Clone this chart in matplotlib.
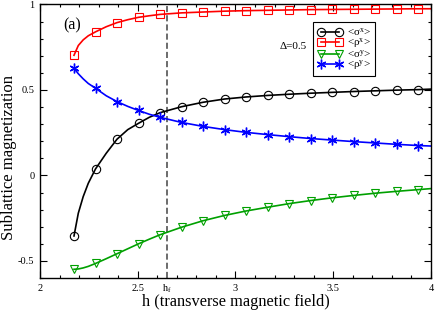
import numpy as np
import matplotlib
matplotlib.use("Agg")
import matplotlib.pyplot as plt
from matplotlib.lines import Line2D
from matplotlib.ticker import MultipleLocator, FuncFormatter
import matplotlib.transforms as mtransforms

plt.rcParams["font.family"] = ["Liberation Serif", "DejaVu Serif"]
plt.rcParams["mathtext.fontset"] = "custom"
plt.rcParams["mathtext.rm"] = "Liberation Serif"
plt.rcParams["mathtext.it"] = "Liberation Serif:italic"
plt.rcParams["axes.unicode_minus"] = False

# h values of the curves (markers sit on a subset of them)
h_line = [2.174, 2.196, 2.221, 2.247, 2.284, 2.339, 2.394, 2.449, 2.504, 2.559,
          2.614, 2.724, 2.834, 2.944, 3.054, 3.164, 3.274, 3.384, 3.494, 3.604,
          3.714, 3.824, 3.934, 4.0]
h_mark = [2.174, 2.284, 2.394, 2.504, 2.614, 2.724, 2.834, 2.944, 3.054, 3.164,
          3.274, 3.384, 3.494, 3.604, 3.714, 3.824, 3.934]

sigma_x = [-0.354, -0.221, -0.124, -0.046, 0.038, 0.130, 0.212, 0.268, 0.305, 0.340,
           0.367, 0.402, 0.428, 0.447, 0.459, 0.468, 0.475, 0.481, 0.486, 0.491,
           0.495, 0.499, 0.502, 0.505]
rho_x = [0.703, 0.760, 0.793, 0.817, 0.840, 0.870, 0.894, 0.911, 0.925, 0.934,
         0.942, 0.951, 0.956, 0.961, 0.964, 0.966, 0.968, 0.970, 0.971, 0.972,
         0.973, 0.974, 0.975, 0.975]
sigma_y = [-0.549, -0.547, -0.541, -0.532, -0.515, -0.487, -0.458, -0.429, -0.400, -0.373,
           -0.347, -0.303, -0.265, -0.234, -0.208, -0.186, -0.165, -0.147, -0.131, -0.117,
           -0.104, -0.093, -0.083, -0.077]
rho_y = [0.627, 0.595, 0.565, 0.538, 0.510, 0.466, 0.432, 0.404, 0.380, 0.358,
         0.340, 0.310, 0.287, 0.268, 0.252, 0.239, 0.227, 0.216, 0.207, 0.198,
         0.190, 0.182, 0.175, 0.172]

h_f = 2.648
delta_label = "Δ=0.5"

star = (6, 2, 0)
series = [
    (sigma_x, "black", "o", "<σ$^{\\rm x}$>"),
    (rho_x, "#ff0000", "s", "<ρ$^{\\rm x}$>"),
    (sigma_y, "#00a000", "v", "<σ$^{\\rm y}$>"),
    (rho_y, "#0000ff", star, "<ρ$^{\\rm y}$>"),
]

fig = plt.figure(figsize=(4.36, 3.10), dpi=100)
ax = fig.add_axes([0.0917, 0.1032, 0.8968, 0.8823])

h_line = np.array(h_line)
mask = np.isin(h_line, h_mark)

handles = []
for vals, col, mk, lab in series:
    vals = np.array(vals)
    ax.plot(h_line, vals, color=col, lw=1.2, zorder=2)
    if mk == star:
        kw = dict(marker=mk, ms=7, mfc=col, mec=col, mew=1.0)
    else:
        kw = dict(marker=mk, ms=6, mfc="none", mec=col, mew=0.8)
    ax.plot(h_line[mask], vals[mask], ls="none", zorder=3, **kw)
    handles.append(Line2D([], [], color=col, lw=1.2, label=lab, **kw))

ax.axvline(h_f, color="#444444", lw=1.1, ls=(0, (4, 2)), zorder=1)

ax.set_xlim(2, 4)
ax.set_ylim(-0.6, 1)
ax.xaxis.set_major_locator(MultipleLocator(0.5))
ax.xaxis.set_minor_locator(MultipleLocator(0.1))
ax.yaxis.set_major_locator(MultipleLocator(0.5))
ax.yaxis.set_minor_locator(MultipleLocator(0.1))
fmt = FuncFormatter(lambda v, p: "%g" % v)
ax.xaxis.set_major_formatter(fmt)
ax.yaxis.set_major_formatter(fmt)
ax.tick_params(which="both", direction="in", top=True, right=True, labelsize=7.5)
ax.tick_params(which="major", length=5, width=0.8, pad=4)
ax.tick_params(which="minor", length=2.5, width=0.8)
for s in ax.spines.values():
    s.set_linewidth(1.0)

ax.set_xlabel("h (transverse magnetic field)", fontsize=11.8, labelpad=1)
ax.set_ylabel("Sublattice magnetization", fontsize=12)
ax.yaxis.set_label_coords(-0.058, 0.44)

trans = mtransforms.blended_transform_factory(ax.transData, ax.transAxes)
ax.text(h_f, -0.018, "h$_{\\rm f}$", transform=trans, ha="center", va="top", fontsize=7.5)
ax.text(2.118, 0.877, "(a)", fontsize=11.5, va="center", ha="left")
ax.text(3.227, 0.757, delta_label, fontsize=8, va="center", ha="left")

leg = ax.legend(handles=handles, loc="upper left", bbox_to_anchor=(0.699, 0.936),
                fontsize=8, numpoints=2, handlelength=2.3, handletextpad=0.4,
                labelspacing=-0.18, handleheight=0.4, borderpad=0.35, borderaxespad=0,
                fancybox=False, framealpha=1, edgecolor="black")
leg.get_frame().set_linewidth(0.8)

fig.savefig("out.png", dpi=100)
